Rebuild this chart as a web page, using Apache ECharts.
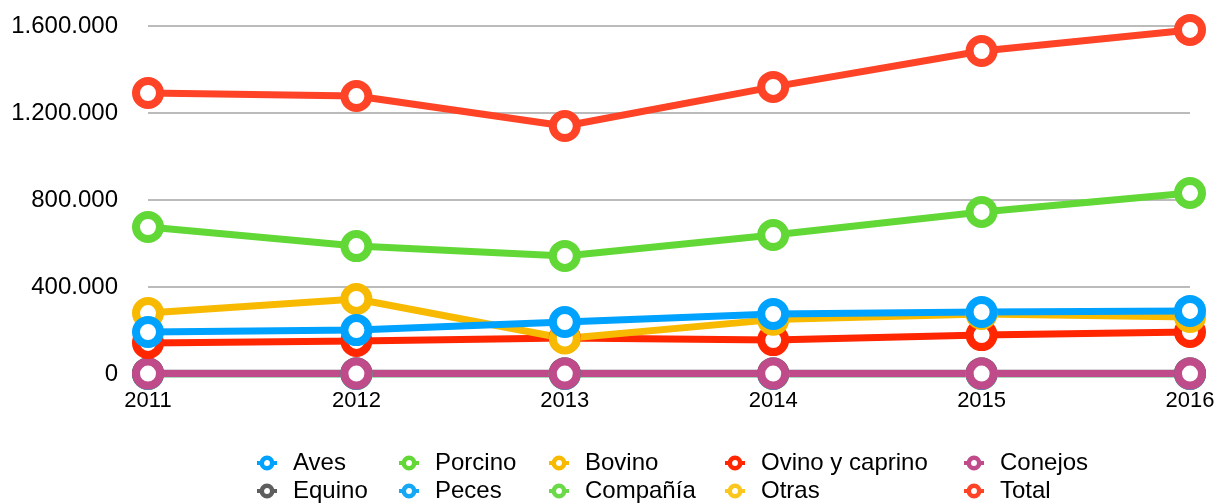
<!DOCTYPE html>
<html>
<head>
<meta charset="utf-8">
<script src="https://cdn.jsdelivr.net/npm/echarts@6/dist/echarts.min.js"></script>
<style>
	html, body { margin: 0; padding: 0; background: #fff; }
	#ct1 { width: 1220px; height: 503px; }
</style>
</head>
<body>
<div id="ct1"></div>
<script>
var years = ['2011', '2012', '2013', '2014', '2015', '2016'];
var yTicks = [0, 400000, 800000, 1200000, 1600000];

var aves = [193000, 202000, 239000, 276000, 285000, 290000];
var porcino = [676000, 588000, 543000, 639000, 745000, 832000];
var bovino = [280000, 345000, 163000, 250000, 276000, 262000];
var ovino = [143000, 152000, 166000, 156000, 179000, 193000];
var conejos = [2000, 2000, 2000, 2000, 2000, 2000];
var equino = [4000, 4000, 4000, 4000, 4000, 4000];
var peces = [0, 0, 0, 0, 0, 0];
var compania = [0, 0, 0, 0, 0, 0];
var otras = [0, 0, 0, 0, 0, 0];
var total = [1292000, 1278000, 1140000, 1320000, 1485000, 1582000];

var names = ['Aves', 'Porcino', 'Bovino', 'Ovino y caprino', 'Conejos', 'Equino', 'Peces', 'Compañía', 'Otras', 'Total'];
var values = [aves, porcino, bovino, ovino, conejos, equino, peces, compania, otras, total];
var colors = ['#00A2FF', '#61D836', '#F8BA00', '#FF2600', '#C04B8B', '#5E5E5E', '#16A8F5', '#6BD94A', '#FAC71E', '#FF4326'];

var font = 'Helvetica, "Liberation Sans", Arial, sans-serif';

function fmt(v) {
	return String(v).replace(/\B(?=(\d{3})+(?!\d))/g, '.');
}

// first series drawn on top, like the original, so push them in reverse
var series = [];
for (var i = names.length - 1; i >= 0; i--) {
	series.push({
		name: names[i],
		type: 'line',
		data: values[i],
		symbol: 'circle',
		symbolSize: 24,
		showAllSymbol: true,
		color: colors[i],
		lineStyle: { width: 7, color: colors[i] },
		itemStyle: { color: '#fff', borderColor: colors[i], borderWidth: 8 },
		emphasis: { disabled: true }
	});
}

function legendItem(k) {
	return {
		name: names[k],
		itemStyle: { color: '#fff', borderColor: colors[k], borderWidth: 4.5 },
		lineStyle: { width: 4, color: colors[k] }
	};
}

var columns = [[0, 5], [1, 6], [2, 7], [3, 8], [4, 9]];
var colLeft = [255, 397, 547, 723, 962];
var legends = [];
for (var c = 0; c < columns.length; c++) {
	legends.push({
		orient: 'vertical',
		left: colLeft[c],
		top: 451,
		padding: 0,
		itemWidth: 20,
		itemHeight: 13,
		itemGap: 4,
		selectedMode: false,
		textStyle: { fontFamily: font, fontSize: 24, color: '#000', lineHeight: 24, padding: [0, 0, 0, 11] },
		data: columns[c].map(legendItem)
	});
}

var option1 = {
	backgroundColor: '#fff',
	animation: false,
	grid: { left: 148, right: 30, top: 26, bottom: 129 },
	legend: legends,
	xAxis: {
		type: 'category',
		data: years,
		boundaryGap: false,
		axisLine: { show: false },
		axisTick: { show: false },
		axisLabel: { color: '#000', fontFamily: font, fontSize: 22, margin: 16 }
	},
	yAxis: {
		type: 'value',
		min: yTicks[0],
		max: yTicks[yTicks.length - 1],
		interval: yTicks[1] - yTicks[0],
		axisLine: { show: false },
		axisTick: { show: false },
		axisLabel: { color: '#000', fontFamily: font, fontSize: 24, margin: 30, padding: [4, 0, 0, 0], formatter: fmt },
		splitLine: { lineStyle: { color: '#BBBBBB', width: 2 } }
	},
	series: series
};

var myChart1 = echarts.init(document.getElementById('ct1'));
myChart1.setOption(option1, true);
</script>
</body>
</html>
